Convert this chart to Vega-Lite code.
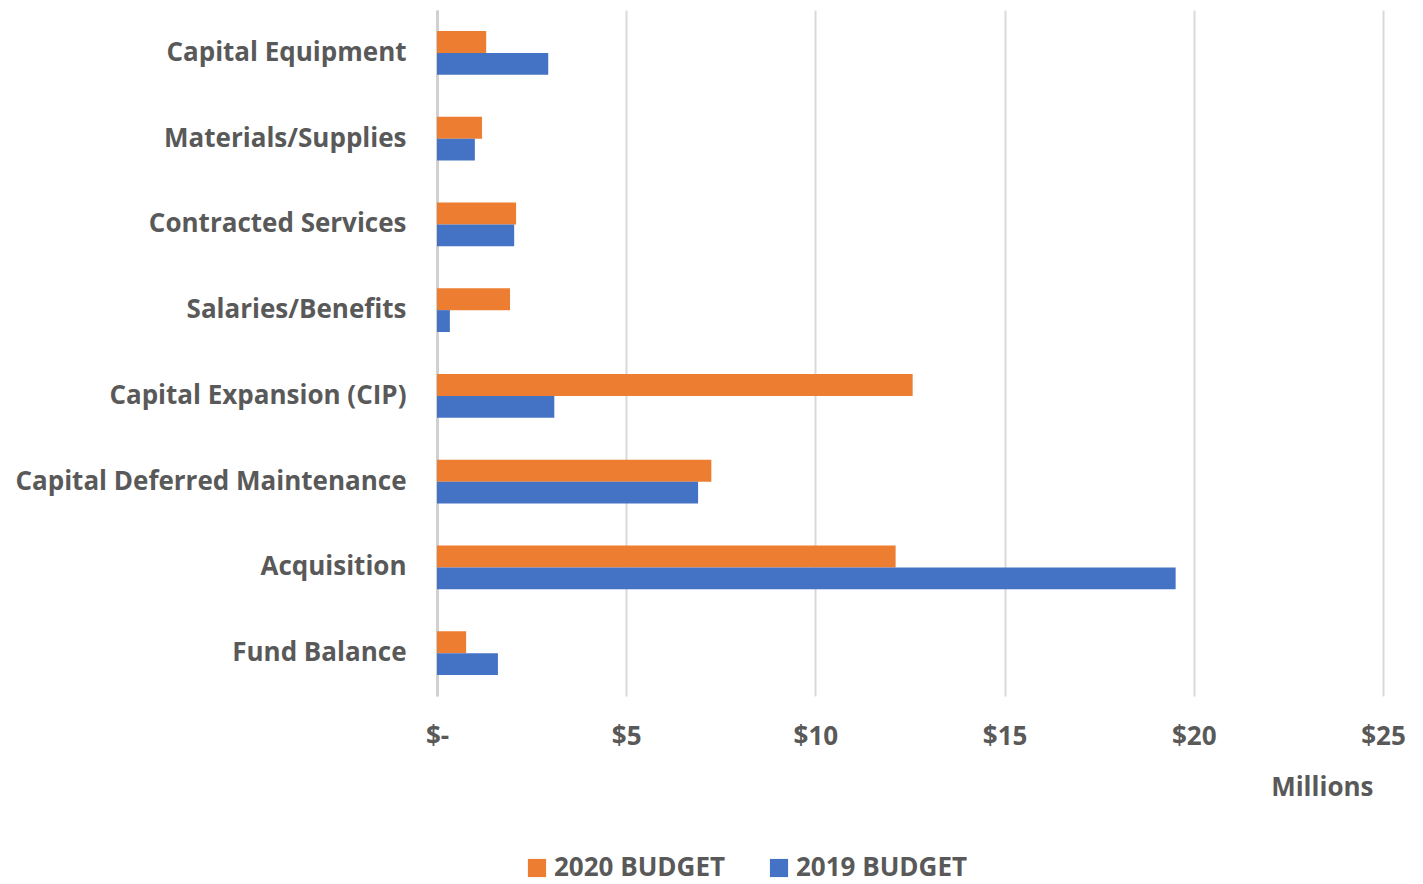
{
  "$schema": "https://vega.github.io/schema/vega-lite/v6.json",
  "width": 946,
  "height": 686,
  "autosize": {"type": "none"},
  "padding": {"left": 437, "top": 10, "right": 40, "bottom": 188},
  "background": "white",
  "config": {
    "font": "Open Sans",
    "view": {"stroke": null}
  },
  "data": {
    "values": [
      {"category": "Capital Equipment", "series": "2020 BUDGET", "value": 1.30},
      {"category": "Capital Equipment", "series": "2019 BUDGET", "value": 2.94},
      {"category": "Materials/Supplies", "series": "2020 BUDGET", "value": 1.19},
      {"category": "Materials/Supplies", "series": "2019 BUDGET", "value": 1.00},
      {"category": "Contracted Services", "series": "2020 BUDGET", "value": 2.09},
      {"category": "Contracted Services", "series": "2019 BUDGET", "value": 2.04},
      {"category": "Salaries/Benefits", "series": "2020 BUDGET", "value": 1.93},
      {"category": "Salaries/Benefits", "series": "2019 BUDGET", "value": 0.34},
      {"category": "Capital Expansion (CIP)", "series": "2020 BUDGET", "value": 12.57},
      {"category": "Capital Expansion (CIP)", "series": "2019 BUDGET", "value": 3.10},
      {"category": "Capital Deferred Maintenance", "series": "2020 BUDGET", "value": 7.25},
      {"category": "Capital Deferred Maintenance", "series": "2019 BUDGET", "value": 6.90},
      {"category": "Acquisition", "series": "2020 BUDGET", "value": 12.12},
      {"category": "Acquisition", "series": "2019 BUDGET", "value": 19.52},
      {"category": "Fund Balance", "series": "2020 BUDGET", "value": 0.77},
      {"category": "Fund Balance", "series": "2019 BUDGET", "value": 1.61}
    ]
  },
  "mark": {"type": "bar"},
  "encoding": {
    "y": {
      "field": "category",
      "type": "nominal",
      "sort": null,
      "scale": {"paddingInner": 0.49, "paddingOuter": 0.245},
      "axis": {
        "title": null,
        "ticks": false,
        "domain": true,
        "domainColor": "#d0d0d0",
        "domainWidth": 3,
        "labelFont": "Open Sans",
        "labelFontSize": 26,
        "labelFontWeight": "bold",
        "labelColor": "#595959",
        "labelPadding": 31,
        "labelLimit": 500
      }
    },
    "yOffset": {
      "field": "series",
      "type": "nominal",
      "sort": ["2020 BUDGET", "2019 BUDGET"]
    },
    "x": {
      "field": "value",
      "type": "quantitative",
      "scale": {"domain": [0, 25], "nice": false},
      "axis": {
        "values": [0, 5, 10, 15, 20, 25],
        "labelExpr": "datum.value == 0 ? '$-' : '$' + datum.value",
        "labelFlush": false,
        "grid": true,
        "gridColor": "#d9d9d9",
        "gridWidth": 2,
        "domain": false,
        "ticks": false,
        "labelFont": "Open Sans",
        "labelFontSize": 26,
        "labelFontWeight": "bold",
        "labelColor": "#595959",
        "labelPadding": 27,
        "title": "Millions",
        "titleFont": "Open Sans",
        "titleFontSize": 26,
        "titleFontWeight": "bold",
        "titleColor": "#595959",
        "titleAnchor": "end",
        "titleAlign": "right",
        "titleX": 936,
        "titleY": 99,
        "titleBaseline": "alphabetic"
      }
    },
    "color": {
      "field": "series",
      "type": "nominal",
      "sort": ["2020 BUDGET", "2019 BUDGET"],
      "scale": {"domain": ["2020 BUDGET", "2019 BUDGET"], "range": ["#ED7D31", "#4472C4"]},
      "legend": {
        "title": null,
        "orient": "none",
        "direction": "horizontal",
        "legendX": 87,
        "legendY": 845,
        "symbolType": "square",
        "symbolSize": 330,
        "symbolStrokeWidth": 0,
        "labelFont": "Open Sans",
        "labelFontSize": 26,
        "labelFontWeight": "bold",
        "labelColor": "#595959",
        "labelOffset": 4,
        "labelLimit": 400,
        "columnPadding": 40
      }
    }
  }
}
